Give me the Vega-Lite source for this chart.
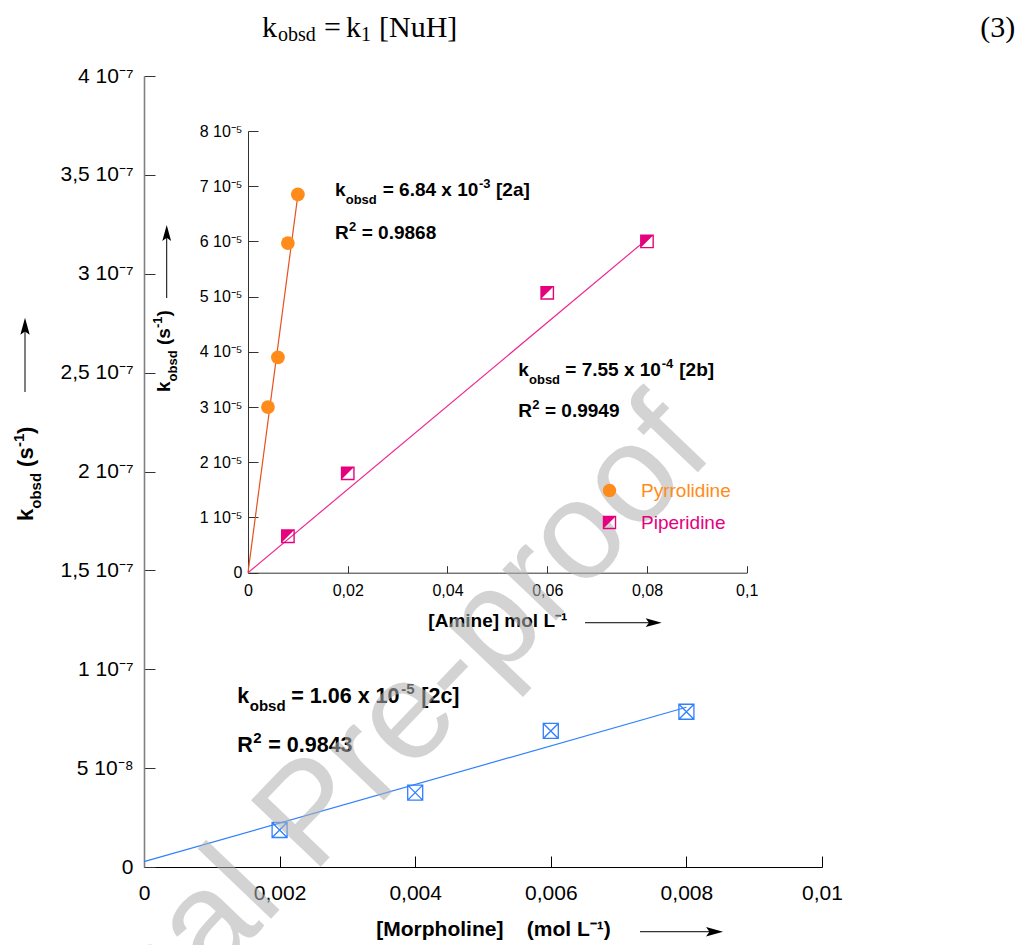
{
  "$schema": "https://vega.github.io/schema/vega-lite/v6.json",
  "width": 678,
  "height": 791,
  "autosize": {"type": "none"},
  "padding": {"left": 144, "top": 76, "right": 197, "bottom": 78},
  "background": "white",
  "config": {"view": {"stroke": null}, "font": "Liberation Sans", "axis": {"grid": false}},
  "datasets": {
    "pts": [
      {"amine": "Pyrrolidine", "conc": 0.004, "kobsd": 3.0e-5},
      {"amine": "Pyrrolidine", "conc": 0.006, "kobsd": 3.9e-5},
      {"amine": "Pyrrolidine", "conc": 0.008, "kobsd": 5.97e-5},
      {"amine": "Pyrrolidine", "conc": 0.01, "kobsd": 6.85e-5},
      {"amine": "Piperidine", "conc": 0.008, "kobsd": 0.66e-5},
      {"amine": "Piperidine", "conc": 0.02, "kobsd": 1.8e-5},
      {"amine": "Piperidine", "conc": 0.06, "kobsd": 5.07e-5},
      {"amine": "Piperidine", "conc": 0.08, "kobsd": 6.0e-5}
    ],
    "fits": [
      {"amine": "Pyrrolidine", "conc": 0, "kobsd": 0},
      {"amine": "Pyrrolidine", "conc": 0.01, "kobsd": 6.84e-5},
      {"amine": "Piperidine", "conc": 0, "kobsd": 0},
      {"amine": "Piperidine", "conc": 0.08, "kobsd": 6.04e-5}
    ],
    "morph": [
      {"conc": 0.002, "kobsd": 1.87e-8},
      {"conc": 0.004, "kobsd": 3.76e-8},
      {"conc": 0.006, "kobsd": 6.88e-8},
      {"conc": 0.008, "kobsd": 7.85e-8}
    ],
    "morphFit": [
      {"conc": 0, "kobsd": 2.7e-9},
      {"conc": 0.008, "kobsd": 8.08e-8}
    ]
  },
  "resolve": {"scale": {"x": "independent", "y": "independent"}},
  "layer": [
    {
      "layer": [
        {
          "data": {"name": "morphFit"},
          "mark": {"type": "line", "color": "#2F80FF", "strokeWidth": 1.2},
          "encoding": {
            "x": {"field": "conc", "type": "quantitative",
              "scale": {"domain": [0, 0.01], "nice": false, "zero": false},
              "axis": {"orient": "bottom", "values": [0, 0.002, 0.004, 0.006, 0.008, 0.01],
                "labelExpr": "replace(format(datum.value, '~g'), '.', ',')",
                "tickSize": -11, "tickColor": "black", "tickWidth": 1, "domainColor": "black", "domainWidth": 1.2,
                "labelFont": "Liberation Sans", "labelFontSize": 21, "labelColor": "black", "labelPadding": 26,
                "labelFlush": false, "labelOverlap": false,
                "title": "[Morpholine]\u00a0\u00a0\u00a0 (mol L⁻¹)", "titleFont": "Liberation Sans", "titleFontSize": 21,
                "titleFontWeight": "bold", "titleColor": "black", "titleX": 349, "titleY": 68,
                "titleAlign": "center", "titleBaseline": "alphabetic"}},
            "y": {"field": "kobsd", "type": "quantitative",
              "scale": {"domain": [0, 4e-7], "nice": false, "zero": false},
              "axis": {"orient": "left", "values": [0, 5e-8, 1e-7, 1.5e-7, 2e-7, 2.5e-7, 3e-7, 3.5e-7, 4e-7],
                "labelExpr": "datum.value == 0 ? '0' : (datum.value < 9e-8 ? format(datum.value*1e8, '~g') + ' 10⁻⁸' : replace(format(datum.value*1e7, '~g'), '.', ',') + ' 10⁻⁷')",
                "tickSize": -11, "tickColor": "#333333", "tickWidth": 1, "domainColor": "#808080", "domainWidth": 1.6,
                "labelFont": "Liberation Sans", "labelFontSize": 21, "labelColor": "black", "labelPadding": 22,
                "labelFlush": false, "labelOverlap": false, "title": null}}
          }
        },
        {
          "data": {"name": "morph"},
          "mark": {"type": "point", "shape": "M-1,-1L1,-1L1,1L-1,1Z M-1,-1L1,1 M1,-1L-1,1", "filled": false,
            "color": "#2F80FF", "strokeWidth": 1.3, "size": 225, "opacity": 1},
          "encoding": {"x": {"field": "conc", "type": "quantitative"}, "y": {"field": "kobsd", "type": "quantitative"}}
        },
        {"data": {"values": [{}]}, "mark": {"type": "text", "text": "k", "align": "left", "baseline": "alphabetic", "fontSize": 21.5, "fontWeight": "bold", "color": "black"},
          "encoding": {"x": {"datum": 0.001376}, "y": {"datum": 8.308e-8}}},
        {"data": {"values": [{}]}, "mark": {"type": "text", "text": "obsd", "align": "left", "baseline": "alphabetic", "fontSize": 15, "fontWeight": "bold", "color": "black", "dx": 12.5, "dy": 8},
          "encoding": {"x": {"datum": 0.001376}, "y": {"datum": 8.308e-8}}},
        {"data": {"values": [{}]}, "mark": {"type": "text", "text": "= 1.06 x 10", "align": "left", "baseline": "alphabetic", "fontSize": 21.5, "fontWeight": "bold", "color": "black", "dx": 54},
          "encoding": {"x": {"datum": 0.001376}, "y": {"datum": 8.308e-8}}},
        {"data": {"values": [{}]}, "mark": {"type": "text", "text": "-5", "align": "left", "baseline": "alphabetic", "fontSize": 15, "fontWeight": "bold", "color": "black", "dx": 164, "dy": -9},
          "encoding": {"x": {"datum": 0.001376}, "y": {"datum": 8.308e-8}}},
        {"data": {"values": [{}]}, "mark": {"type": "text", "text": "[2c]", "align": "left", "baseline": "alphabetic", "fontSize": 21.5, "fontWeight": "bold", "color": "black", "dx": 184},
          "encoding": {"x": {"datum": 0.001376}, "y": {"datum": 8.308e-8}}},
        {"data": {"values": [{}]}, "mark": {"type": "text", "text": "R", "align": "left", "baseline": "alphabetic", "fontSize": 21.5, "fontWeight": "bold", "color": "black"},
          "encoding": {"x": {"datum": 0.001376}, "y": {"datum": 5.831e-8}}},
        {"data": {"values": [{}]}, "mark": {"type": "text", "text": "2", "align": "left", "baseline": "alphabetic", "fontSize": 15, "fontWeight": "bold", "color": "black", "dx": 16, "dy": -9},
          "encoding": {"x": {"datum": 0.001376}, "y": {"datum": 5.831e-8}}},
        {"data": {"values": [{}]}, "mark": {"type": "text", "text": "= 0.9843", "align": "left", "baseline": "alphabetic", "fontSize": 21.5, "fontWeight": "bold", "color": "black", "dx": 31},
          "encoding": {"x": {"datum": 0.001376}, "y": {"datum": 5.831e-8}}},
        {"data": {"values": [{}]}, "mark": {"type": "text", "text": "k", "align": "left", "baseline": "alphabetic", "angle": 270, "fontSize": 22, "fontWeight": "bold", "color": "black"},
          "encoding": {"x": {"datum": -0.001637}, "y": {"datum": 1.75e-7}}},
        {"data": {"values": [{}]}, "mark": {"type": "text", "text": "obsd", "align": "left", "baseline": "alphabetic", "angle": 270, "fontSize": 15, "fontWeight": "bold", "color": "black", "dx": 12.2, "dy": 8},
          "encoding": {"x": {"datum": -0.001637}, "y": {"datum": 1.75e-7}}},
        {"data": {"values": [{}]}, "mark": {"type": "text", "text": "(s", "align": "left", "baseline": "alphabetic", "angle": 270, "fontSize": 22, "fontWeight": "bold", "color": "black", "dx": 54},
          "encoding": {"x": {"datum": -0.001637}, "y": {"datum": 1.75e-7}}},
        {"data": {"values": [{}]}, "mark": {"type": "text", "text": "-1", "align": "left", "baseline": "alphabetic", "angle": 270, "fontSize": 15, "fontWeight": "bold", "color": "black", "dx": 74, "dy": -9},
          "encoding": {"x": {"datum": -0.001637}, "y": {"datum": 1.75e-7}}},
        {"data": {"values": [{}]}, "mark": {"type": "text", "text": ")", "align": "left", "baseline": "alphabetic", "angle": 270, "fontSize": 22, "fontWeight": "bold", "color": "black", "dx": 87},
          "encoding": {"x": {"datum": -0.001637}, "y": {"datum": 1.75e-7}}},
        {"data": {"values": [{}]}, "mark": {"type": "rule", "color": "black", "strokeWidth": 1},
          "encoding": {"x": {"datum": -0.001755}, "y": {"datum": 2.402e-7}, "y2": {"datum": 2.74e-7}}},
        {"data": {"values": [{}]}, "mark": {"type": "point", "shape": "M0,-1L-0.55,1L0,0.6L0.55,1Z", "filled": true, "color": "black", "size": 289, "opacity": 1},
          "encoding": {"x": {"datum": -0.001755}, "y": {"datum": 2.734e-7}}},
        {"data": {"values": [{}]}, "mark": {"type": "rule", "color": "black", "strokeWidth": 1},
          "encoding": {"x": {"datum": 0.007316}, "x2": {"datum": 0.00844}, "y": {"datum": -3.272e-8}}},
        {"data": {"values": [{}]}, "mark": {"type": "point", "shape": "M1,0L-1,-0.55L-0.6,0L-1,0.55Z", "filled": true, "color": "black", "size": 289, "opacity": 1},
          "encoding": {"x": {"datum": 0.008415}, "y": {"datum": -3.272e-8}}},
        {"data": {"values": [{}]}, "mark": {"type": "text", "text": "k", "align": "left", "baseline": "alphabetic", "font": "Liberation Serif", "fontSize": 30, "color": "black"},
          "encoding": {"x": {"datum": 0.001741}, "y": {"datum": 4.195e-7}}},
        {"data": {"values": [{}]}, "mark": {"type": "text", "text": "obsd", "align": "left", "baseline": "alphabetic", "font": "Liberation Serif", "fontSize": 20, "color": "black", "dx": 16, "dy": 4},
          "encoding": {"x": {"datum": 0.001741}, "y": {"datum": 4.195e-7}}},
        {"data": {"values": [{}]}, "mark": {"type": "text", "text": "=", "align": "left", "baseline": "alphabetic", "font": "Liberation Serif", "fontSize": 30, "color": "black", "dx": 62},
          "encoding": {"x": {"datum": 0.001741}, "y": {"datum": 4.195e-7}}},
        {"data": {"values": [{}]}, "mark": {"type": "text", "text": "k", "align": "left", "baseline": "alphabetic", "font": "Liberation Serif", "fontSize": 30, "color": "black", "dx": 84},
          "encoding": {"x": {"datum": 0.001741}, "y": {"datum": 4.195e-7}}},
        {"data": {"values": [{}]}, "mark": {"type": "text", "text": "1", "align": "left", "baseline": "alphabetic", "font": "Liberation Serif", "fontSize": 20, "color": "black", "dx": 99, "dy": 4},
          "encoding": {"x": {"datum": 0.001741}, "y": {"datum": 4.195e-7}}},
        {"data": {"values": [{}]}, "mark": {"type": "text", "text": "[NuH]", "align": "left", "baseline": "alphabetic", "font": "Liberation Serif", "fontSize": 30, "color": "black", "dx": 117},
          "encoding": {"x": {"datum": 0.001741}, "y": {"datum": 4.195e-7}}},
        {"data": {"values": [{}]}, "mark": {"type": "text", "text": "(3)", "align": "right", "baseline": "alphabetic", "font": "Liberation Serif", "fontSize": 30, "color": "black"},
          "encoding": {"x": {"datum": 0.01285}, "y": {"datum": 4.195e-7}}}
      ]
    },
    {
      "layer": [
        {
          "data": {"name": "fits"},
          "transform": [{"filter": "datum.amine === 'Pyrrolidine'"}],
          "mark": {"type": "line", "color": "#E8501E", "strokeWidth": 1.2},
          "encoding": {
            "x": {"field": "conc", "type": "quantitative",
              "scale": {"domain": [0, 0.1], "range": [104, 602.7], "nice": false, "zero": false},
              "axis": {"orient": "bottom", "offset": -294.3, "values": [0, 0.02, 0.04, 0.06, 0.08, 0.1],
                "labelExpr": "replace(format(datum.value, '~g'), '.', ',')",
                "tickSize": -7, "tickColor": "#333333", "tickWidth": 1, "domainColor": "#333333", "domainWidth": 1,
                "labelFont": "Liberation Sans", "labelFontSize": 16, "labelColor": "black", "labelPadding": 17,
                "labelFlush": false, "labelOverlap": false,
                "title": "[Amine] mol L⁻¹", "titleFont": "Liberation Sans", "titleFontSize": 19,
                "titleFontWeight": "bold", "titleColor": "black", "titleY": 54, "titleBaseline": "alphabetic"}},
            "y": {"field": "kobsd", "type": "quantitative",
              "scale": {"domain": [0, 8e-5], "range": [496.7, 55], "nice": false, "zero": false},
              "axis": {"orient": "left", "offset": -104, "values": [0, 1e-5, 2e-5, 3e-5, 4e-5, 5e-5, 6e-5, 7e-5, 8e-5],
                "labelExpr": "datum.value == 0 ? '0' : format(datum.value*1e5, '~g') + ' 10⁻⁵'",
                "tickSize": -10, "tickColor": "#333333", "tickWidth": 1, "domainColor": "#333333", "domainWidth": 1,
                "labelFont": "Liberation Sans", "labelFontSize": 16, "labelColor": "black", "labelPadding": 16,
                "labelFlush": false, "labelOverlap": false, "title": null}}
          }
        },
        {
          "data": {"name": "fits"},
          "transform": [{"filter": "datum.amine === 'Piperidine'"}],
          "mark": {"type": "line", "color": "#EE2A92", "strokeWidth": 1.2},
          "encoding": {"x": {"field": "conc", "type": "quantitative"}, "y": {"field": "kobsd", "type": "quantitative"}}
        },
        {
          "data": {"name": "pts"},
          "mark": {"type": "point", "filled": true, "opacity": 1, "size": 190, "strokeWidth": 0},
          "encoding": {
            "x": {"field": "conc", "type": "quantitative"},
            "y": {"field": "kobsd", "type": "quantitative"},
            "color": {"field": "amine", "type": "nominal",
              "scale": {"domain": ["Pyrrolidine", "Piperidine"], "range": ["#FF8C1A", "#E6007E"]},
              "legend": {"orient": "none", "legendX": 456, "legendY": 405, "title": null, "padding": 0,
                "labelFont": "Liberation Sans", "labelFontSize": 19, "labelOffset": 22, "rowPadding": 12,
                "symbolSize": 180, "symbolOpacity": 1, "symbolStrokeWidth": 0,
                "encode": {"labels": {"update": {"fill": {"scale": "color", "field": "value"}}}}}},
            "shape": {"field": "amine", "type": "nominal",
              "scale": {"domain": ["Pyrrolidine", "Piperidine"], "range": ["circle", "M-1,-1L1,-1L1,1L-1,1Z M-0.8,-0.8L-0.8,0.8L0.8,0.8L0.8,-0.8Z M-0.8,-0.8L0.8,-0.8L-0.8,0.8Z"]},
              "legend": {"orient": "none", "legendX": 456, "legendY": 405, "title": null, "padding": 0,
                "labelFont": "Liberation Sans", "labelFontSize": 19, "labelOffset": 22, "rowPadding": 12,
                "symbolSize": 180, "symbolOpacity": 1, "symbolStrokeWidth": 0,
                "encode": {"labels": {"update": {"fill": {"scale": "color", "field": "value"}}}}}}
          }
        },
        {"data": {"values": [{}]}, "mark": {"type": "text", "text": "k", "align": "left", "baseline": "alphabetic", "fontSize": 19, "fontWeight": "bold", "color": "black"},
          "encoding": {"x": {"datum": 0.01745}, "y": {"datum": 6.823e-5}}},
        {"data": {"values": [{}]}, "mark": {"type": "text", "text": "obsd", "align": "left", "baseline": "alphabetic", "fontSize": 13, "fontWeight": "bold", "color": "black", "dx": 10.7, "dy": 8},
          "encoding": {"x": {"datum": 0.01745}, "y": {"datum": 6.823e-5}}},
        {"data": {"values": [{}]}, "mark": {"type": "text", "text": "= 6.84 x 10", "align": "left", "baseline": "alphabetic", "fontSize": 19, "fontWeight": "bold", "color": "black", "dx": 47.7},
          "encoding": {"x": {"datum": 0.01745}, "y": {"datum": 6.823e-5}}},
        {"data": {"values": [{}]}, "mark": {"type": "text", "text": "-3", "align": "left", "baseline": "alphabetic", "fontSize": 13, "fontWeight": "bold", "color": "black", "dx": 144, "dy": -8},
          "encoding": {"x": {"datum": 0.01745}, "y": {"datum": 6.823e-5}}},
        {"data": {"values": [{}]}, "mark": {"type": "text", "text": "[2a]", "align": "left", "baseline": "alphabetic", "fontSize": 19, "fontWeight": "bold", "color": "black", "dx": 161},
          "encoding": {"x": {"datum": 0.01745}, "y": {"datum": 6.823e-5}}},
        {"data": {"values": [{}]}, "mark": {"type": "text", "text": "R", "align": "left", "baseline": "alphabetic", "fontSize": 19, "fontWeight": "bold", "color": "black"},
          "encoding": {"x": {"datum": 0.01745}, "y": {"datum": 6.039e-5}}},
        {"data": {"values": [{}]}, "mark": {"type": "text", "text": "2", "align": "left", "baseline": "alphabetic", "fontSize": 13, "fontWeight": "bold", "color": "black", "dx": 14, "dy": -8},
          "encoding": {"x": {"datum": 0.01745}, "y": {"datum": 6.039e-5}}},
        {"data": {"values": [{}]}, "mark": {"type": "text", "text": "= 0.9868", "align": "left", "baseline": "alphabetic", "fontSize": 19, "fontWeight": "bold", "color": "black", "dx": 26.7},
          "encoding": {"x": {"datum": 0.01745}, "y": {"datum": 6.039e-5}}},
        {"data": {"values": [{}]}, "mark": {"type": "text", "text": "k", "align": "left", "baseline": "alphabetic", "fontSize": 19, "fontWeight": "bold", "color": "black"},
          "encoding": {"x": {"datum": 0.0542}, "y": {"datum": 3.563e-5}}},
        {"data": {"values": [{}]}, "mark": {"type": "text", "text": "obsd", "align": "left", "baseline": "alphabetic", "fontSize": 13, "fontWeight": "bold", "color": "black", "dx": 10.7, "dy": 8},
          "encoding": {"x": {"datum": 0.0542}, "y": {"datum": 3.563e-5}}},
        {"data": {"values": [{}]}, "mark": {"type": "text", "text": "= 7.55 x 10", "align": "left", "baseline": "alphabetic", "fontSize": 19, "fontWeight": "bold", "color": "black", "dx": 47},
          "encoding": {"x": {"datum": 0.0542}, "y": {"datum": 3.563e-5}}},
        {"data": {"values": [{}]}, "mark": {"type": "text", "text": "-4", "align": "left", "baseline": "alphabetic", "fontSize": 13, "fontWeight": "bold", "color": "black", "dx": 143.5, "dy": -8},
          "encoding": {"x": {"datum": 0.0542}, "y": {"datum": 3.563e-5}}},
        {"data": {"values": [{}]}, "mark": {"type": "text", "text": "[2b]", "align": "left", "baseline": "alphabetic", "fontSize": 19, "fontWeight": "bold", "color": "black", "dx": 161},
          "encoding": {"x": {"datum": 0.0542}, "y": {"datum": 3.563e-5}}},
        {"data": {"values": [{}]}, "mark": {"type": "text", "text": "R", "align": "left", "baseline": "alphabetic", "fontSize": 19, "fontWeight": "bold", "color": "black"},
          "encoding": {"x": {"datum": 0.0542}, "y": {"datum": 2.829e-5}}},
        {"data": {"values": [{}]}, "mark": {"type": "text", "text": "2", "align": "left", "baseline": "alphabetic", "fontSize": 13, "fontWeight": "bold", "color": "black", "dx": 14, "dy": -8},
          "encoding": {"x": {"datum": 0.0542}, "y": {"datum": 2.829e-5}}},
        {"data": {"values": [{}]}, "mark": {"type": "text", "text": "= 0.9949", "align": "left", "baseline": "alphabetic", "fontSize": 19, "fontWeight": "bold", "color": "black", "dx": 26.7},
          "encoding": {"x": {"datum": 0.0542}, "y": {"datum": 2.829e-5}}},
        {"data": {"values": [{}]}, "mark": {"type": "text", "text": "k", "align": "left", "baseline": "alphabetic", "angle": 270, "fontSize": 19, "fontWeight": "bold", "color": "black"},
          "encoding": {"x": {"datum": -0.01564}, "y": {"datum": 3.273e-5}}},
        {"data": {"values": [{}]}, "mark": {"type": "text", "text": "obsd", "align": "left", "baseline": "alphabetic", "angle": 270, "fontSize": 13, "fontWeight": "bold", "color": "black", "dx": 10.6, "dy": 7},
          "encoding": {"x": {"datum": -0.01564}, "y": {"datum": 3.273e-5}}},
        {"data": {"values": [{}]}, "mark": {"type": "text", "text": "(s", "align": "left", "baseline": "alphabetic", "angle": 270, "fontSize": 19, "fontWeight": "bold", "color": "black", "dx": 47},
          "encoding": {"x": {"datum": -0.01564}, "y": {"datum": 3.273e-5}}},
        {"data": {"values": [{}]}, "mark": {"type": "text", "text": "-1", "align": "left", "baseline": "alphabetic", "angle": 270, "fontSize": 13, "fontWeight": "bold", "color": "black", "dx": 64, "dy": -8},
          "encoding": {"x": {"datum": -0.01564}, "y": {"datum": 3.273e-5}}},
        {"data": {"values": [{}]}, "mark": {"type": "text", "text": ")", "align": "left", "baseline": "alphabetic", "angle": 270, "fontSize": 19, "fontWeight": "bold", "color": "black", "dx": 75.6},
          "encoding": {"x": {"datum": -0.01564}, "y": {"datum": 3.273e-5}}},
        {"data": {"values": [{}]}, "mark": {"type": "rule", "color": "black", "strokeWidth": 1},
          "encoding": {"x": {"datum": -0.0163}, "y": {"datum": 4.975e-5}, "y2": {"datum": 6.16e-5}}},
        {"data": {"values": [{}]}, "mark": {"type": "point", "shape": "M0,-1L-0.55,1L0,0.6L0.55,1Z", "filled": true, "color": "black", "size": 256, "opacity": 1},
          "encoding": {"x": {"datum": -0.0163}, "y": {"datum": 6.152e-5}}},
        {"data": {"values": [{}]}, "mark": {"type": "rule", "color": "black", "strokeWidth": 1},
          "encoding": {"x": {"datum": 0.06758}, "x2": {"datum": 0.0814}, "y": {"datum": -0.906e-5}}},
        {"data": {"values": [{}]}, "mark": {"type": "point", "shape": "M1,0L-1,-0.55L-0.6,0L-1,0.55Z", "filled": true, "color": "black", "size": 256, "opacity": 1},
          "encoding": {"x": {"datum": 0.08135}, "y": {"datum": -0.906e-5}}}
      ]
    },
    {
      "data": {"values": [{}]},
      "mark": {"type": "text", "text": "Journal Pre-proof", "font": "Liberation Sans", "fontSize": 140, "angle": 313.7,
        "align": "center", "baseline": "middle", "fill": "#B1B1B1", "fillOpacity": 0.56},
      "encoding": {
        "x": {"datum": 0.002478, "type": "quantitative", "scale": {"domain": [0, 0.01], "nice": false, "zero": false}, "axis": null},
        "y": {"datum": 2.63e-8, "type": "quantitative", "scale": {"domain": [0, 4e-7], "nice": false, "zero": false}, "axis": null}
      }
    }
  ]
}
